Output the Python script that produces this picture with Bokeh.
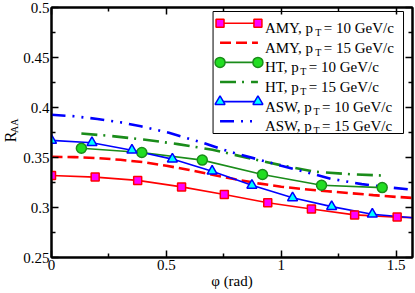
from math import pi
from bokeh.plotting import figure
from bokeh.layouts import row
from bokeh.models import Range1d, FixedTicker, LinearAxis
from bokeh.core.properties import value
from bokeh.embed import file_html
from bokeh.resources import INLINE

# ---------------- data ----------------
x_ticks = [0, 0.5, 1, 1.5]
x_tick_labels = ["0", "0.5", "1", "1.5"]
x_minor = [0.25, 0.75, 1.25]
y_ticks = [0.25, 0.3, 0.35, 0.4, 0.45, 0.5]
y_tick_labels = ["0.25", "0.3", "0.35", "0.4", "0.45", "0.5"]
y_minor = [0.275, 0.325, 0.375, 0.425, 0.475]

amy10_x = [0.0, 0.19, 0.375, 0.566, 0.752, 0.941, 1.131, 1.319, 1.504]
amy10_y = [0.332, 0.3304, 0.3271, 0.3206, 0.313, 0.3048, 0.2985, 0.2926, 0.2904]
amy10_end_x = [pi / 2]
amy10_end_y = [0.2899]

amy15_x = [0, 0.1, 0.2, 0.3, 0.4, 0.5, 0.6, 0.7, 0.8, 0.9, 1.0, 1.1, 1.2, 1.3, 1.4, 1.5, pi / 2]
amy15_y = [0.3507, 0.3504, 0.3494, 0.3477, 0.3453, 0.3418, 0.3375, 0.3328, 0.3282, 0.3241,
           0.3208, 0.3183, 0.3163, 0.3143, 0.3124, 0.3106, 0.3096]

ht10_x = [0.13, 0.393, 0.656, 0.918, 1.175, 1.439]
ht10_y = [0.3593, 0.355, 0.3474, 0.333, 0.3222, 0.3199]

ht15_x = [0.13, 0.25, 0.4, 0.55, 0.7, 0.85, 1.0, 1.15, 1.3, 1.44]
ht15_y = [0.374, 0.3717, 0.368, 0.3634, 0.3578, 0.3498, 0.3422, 0.3357, 0.3333, 0.332]

asw10_x = [0.0, 0.176, 0.35, 0.526, 0.699, 0.872, 1.049, 1.219, 1.396]
asw10_y = [0.3671, 0.3648, 0.3573, 0.3484, 0.3363, 0.3222, 0.3097, 0.3009, 0.2933]
asw10_end_x = [pi / 2]
asw10_end_y = [0.2898]

asw15_x = [0, 0.1, 0.2, 0.3, 0.389, 0.511, 0.656, 0.778, 0.9, 1.0, 1.1, 1.216, 1.35, 1.45, pi / 2]
asw15_y = [0.3927, 0.3912, 0.3885, 0.3852, 0.3812, 0.3747, 0.3649, 0.3556, 0.348, 0.3418,
           0.3358, 0.3287, 0.3234, 0.3205, 0.3177]

legend_models = ["AMY", "AMY", "HT", "HT", "ASW", "ASW"]
legend_pt = ["10", "15", "10", "15", "10", "15"]

# ---------------- layout ----------------
YW = 20                      # width of the strip holding the y title
W, H = 414 - YW, 293
L, R, T, B = 30, 2, 7, 36
FW, FH = W - L - R, H - T - B
X0, X1 = 0.0, pi / 2
Y0, Y1 = 0.25, 0.5


def fx(px):
    return X0 + px / FW * (X1 - X0)


def fy(py):
    return Y1 - py / FH * (Y1 - Y0)


FONT = "Liberation Serif"
RED, GREEN, BLUE = "#ff0000", "#1a8c1a", "#0000ff"

p = figure(width=W, height=H, x_range=Range1d(X0, X1), y_range=Range1d(Y0, Y1),
           output_backend="svg", toolbar_location=None,
           min_border_left=L, min_border_right=R, min_border_top=T, min_border_bottom=B,
           background_fill_color="white", border_fill_color="white")
p.outline_line_color = "black"
p.outline_line_width = 2
p.xgrid.visible = False
p.ygrid.visible = False

bottom_ax = p.below[0]
left_ax = p.left[0]


def style_axis(ax, ticks, minor, labels, show):
    ax.ticker = FixedTicker(ticks=ticks, minor_ticks=minor)
    ax.major_tick_in = 7
    ax.major_tick_out = 0
    ax.minor_tick_in = 4
    ax.minor_tick_out = 0
    ax.major_tick_line_width = 1.5
    ax.minor_tick_line_width = 1.5
    ax.major_tick_line_color = "black"
    ax.minor_tick_line_color = "black"
    ax.axis_line_color = "black"
    ax.axis_line_width = 2
    if show:
        ax.major_label_overrides = {t: l for t, l in zip(ticks, labels)}
        ax.major_label_text_font = FONT
        ax.major_label_text_font_size = "15px"
        ax.major_label_text_color = "black"
        ax.major_label_standoff = 2
    else:
        ax.major_label_overrides = {t: "" for t in ticks}
        ax.major_label_text_font_size = "0px"
        ax.major_label_standoff = 0


style_axis(bottom_ax, x_ticks, x_minor, x_tick_labels, True)
style_axis(left_ax, y_ticks, y_minor, y_tick_labels, True)
top_ax = LinearAxis()
right_ax = LinearAxis()
style_axis(top_ax, x_ticks, x_minor, x_tick_labels, False)
style_axis(right_ax, y_ticks, y_minor, y_tick_labels, False)
p.add_layout(top_ax, "above")
p.add_layout(right_ax, "right")

bottom_ax.axis_label = "φ (rad)"
bottom_ax.axis_label_text_font = FONT
bottom_ax.axis_label_text_font_size = "15px"
bottom_ax.axis_label_text_font_style = "normal"
bottom_ax.axis_label_text_color = "black"
bottom_ax.axis_label_standoff = 0

# ---------------- curves ----------------
p.line(amy15_x, amy15_y, line_color=RED, line_width=2.6, line_dash="11 5")
p.line(ht15_x, ht15_y, line_color=GREEN, line_width=2.6, line_dash="16 6 2 7")
p.line(asw15_x, asw15_y, line_color=BLUE, line_width=2.6, line_dash="14 7 2 7 2 7")

p.line(amy10_x + amy10_end_x, amy10_y + amy10_end_y, line_color=RED, line_width=1.6)
p.line(ht10_x, ht10_y, line_color=GREEN, line_width=1.6)
p.line(asw10_x + asw10_end_x, asw10_y + asw10_end_y, line_color=BLUE, line_width=1.6)

p.scatter(amy10_x, amy10_y, marker="square", size=8, fill_color="#ff00ff", line_color=RED, line_width=1.5)
p.scatter(ht10_x, ht10_y, marker="circle", size=10, fill_color="#22dd22", line_color=GREEN, line_width=1.5)
p.scatter(asw10_x, asw10_y, marker="triangle", size=10, fill_color="#00ffff", line_color=BLUE, line_width=1.5)

# ---------------- legend ----------------
LB, LR, LT, LBOT = FW - 9 - 191, FW - 9, 4, 126
p.quad(left=[fx(LB)], right=[fx(LR)], top=[fy(LT)], bottom=[fy(LBOT)],
       fill_color="white", line_color="black", line_width=1)

styles = [
    dict(color=RED, width=1.6, dash="solid", marker="square", fill="#ff00ff", size=8),
    dict(color=RED, width=2.6, dash="11 5", marker=None),
    dict(color=GREEN, width=1.6, dash="solid", marker="circle", fill="#22dd22", size=10),
    dict(color=GREEN, width=2.6, dash="16 6 2 7", marker=None),
    dict(color=BLUE, width=1.6, dash="solid", marker="triangle", fill="#00ffff", size=10),
    dict(color=BLUE, width=2.6, dash="14 7 2 7 2 7", marker=None),
]

cw = {"A": .722, "M": .889, "Y": .722, ",": .25, " ": .25, "p": .5, "H": .722,
      "T": .611, "S": .556, "W": .944}
FS = 15
row_y, pre_x, pre_t, sub_x, sub_y, rest_x, rest_t = [], [], [], [], [], [], []
for i, (m, pt) in enumerate(zip(legend_models, legend_pt)):
    ry = 15.7 + 19.6 * i
    st = styles[i]
    x_a, x_b = LB + 7, LB + 45
    p.line([fx(x_a), fx(x_b)], [fy(ry), fy(ry)], line_color=st["color"],
           line_width=st["width"], line_dash=st["dash"])
    if st["marker"]:
        p.scatter([fx(x_a), fx(x_b)], [fy(ry), fy(ry)], marker=st["marker"], size=st["size"],
                  fill_color=st["fill"], line_color=st["color"], line_width=1.5)
    pre = m + ", p"
    wpre = sum(cw[c] for c in pre) * FS
    tx = LB + 52
    row_y.append(fy(ry + 5))
    pre_x.append(fx(tx))
    pre_t.append(pre)
    sub_x.append(fx(tx + wpre + 0.5))
    sub_y.append(fy(ry + 9.5))
    rest_x.append(fx(tx + wpre + 9))
    rest_t.append("= " + pt + " GeV/c")

p.text(pre_x, row_y, text=pre_t, text_font=value(FONT), text_font_size=value("15px"),
       text_baseline="alphabetic", text_align="left", text_color="black")
p.text(sub_x, sub_y, text=["T"] * len(sub_x), text_font=value(FONT), text_font_size=value("10px"),
       text_baseline="alphabetic", text_align="left", text_color="black")
p.text(rest_x, row_y, text=rest_t, text_font=value(FONT), text_font_size=value("15px"),
       text_baseline="alphabetic", text_align="left", text_color="black")

# ---------------- y title strip: R with subscript AA ----------------
yl = figure(width=YW, height=H, x_range=Range1d(0, YW), y_range=Range1d(0, H),
            output_backend="svg", toolbar_location=None,
            x_axis_location=None, y_axis_location=None,
            min_border_left=0, min_border_right=0, min_border_top=0, min_border_bottom=0,
            background_fill_color="white", border_fill_color="white")
yl.xgrid.visible = False
yl.ygrid.visible = False
yl.outline_line_color = None

center_up = H - (T + FH / 2)       # frame centre, measured from the bottom
r_start = center_up - 26.0
yl.text([9.5], [r_start], text=["R"], angle=pi / 2, text_font=value(FONT),
        text_font_size=value("16px"), text_baseline="middle", text_align="left",
        text_color="black")
yl.text([14.0], [r_start + 11.0], text=["AA"], angle=pi / 2, text_font=value(FONT),
        text_font_size=value("10px"), text_baseline="middle", text_align="left",
        text_color="black")

layout = row(yl, p, spacing=0)
open("out.html", "w").write(file_html(layout, INLINE))
